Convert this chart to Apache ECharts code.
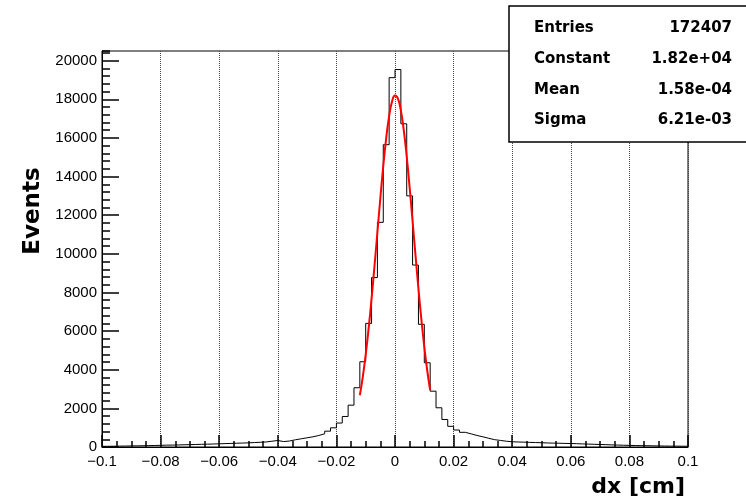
<!DOCTYPE html>
<html>
<head>
<meta charset="utf-8">
<script src="https://cdn.jsdelivr.net/npm/echarts@6/dist/echarts.min.js"></script>
<style>
  html, body { margin: 0; padding: 0; background: #fff; }
  #chart { width: 746px; height: 503px; }
</style>
</head>
<body>
<div id="chart"></div>
<script>
// histogram binning
const xMin = -0.1
const xMax = 0.1
const binWidth = 0.002

// bin contents (100 bins from -0.1 to 0.1)
const binCounts = [
  35, 40, 45, 50, 55, 60, 65, 70, 80, 85,
  95, 100, 105, 115, 120, 130, 140, 145, 155, 165,
  175, 185, 195, 205, 215, 230, 245, 260, 300, 337,
  280, 310, 373, 425, 477, 528, 596, 683, 820, 993,
  1240, 1580, 2166, 3067, 4413, 6400, 8770, 11630, 15650, 19120,
  19540, 16730, 13000, 9420, 6350, 4360, 2890, 2030, 1425, 1070,
  880, 760, 680, 596, 528, 450, 380, 340, 300, 270,
  260, 250, 240, 230, 220, 210, 200, 195, 185, 180,
  170, 160, 150, 140, 130, 120, 110, 100, 90, 85,
  75, 70, 65, 60, 55, 50, 45, 45, 40, 40
]

// red gaussian fit curve
const fitX = [
  -0.012, -0.011, -0.010, -0.009, -0.008, -0.007, -0.006, -0.005, -0.004, -0.003, -0.002, -0.001,
  0, 0.001, 0.002, 0.003, 0.004, 0.005, 0.006, 0.007, 0.008, 0.009, 0.010, 0.011, 0.012
]
const fitY = [
  2680, 3620, 4780, 6140, 7680, 9370, 11130, 12890, 14550, 15990, 17130, 17890,
  18190, 18030, 17420, 16390, 15030, 13430, 11690, 9920, 8200, 6610, 5180, 3960, 2950
]

const statNames = ['Entries', 'Constant', 'Mean', 'Sigma']
const statValues = ['172407', '1.82e+04', '1.58e-04', '6.21e-03']
const statRowsY = [28, 59, 90, 120]

const chart = echarts.init(document.getElementById('chart'))

// step outline: one point per left bin edge, plus closing right edge
const histData = binCounts.map((v, i) => [+(xMin + i * binWidth).toFixed(4), v])
histData.push([xMax, binCounts[binCounts.length - 1]])

const fitData = fitX.map((x, i) => [x, fitY[i]])

const labelFont = { fontFamily: 'Liberation Sans', fontSize: 15, color: '#000' }
const tickStyle = { color: '#000', width: 1.5 }

const statsGraphics = [{
  type: 'rect',
  shape: { x: 509, y: 6, width: 260, height: 136 },
  style: { fill: '#fff', stroke: '#000', lineWidth: 1.5 },
  z: 100
}]
statNames.forEach((name, i) => {
  statsGraphics.push({
    type: 'text', x: 534, y: statRowsY[i], z: 101,
    style: { text: name, font: 'bold 15px "DejaVu Sans"', fill: '#000', textAlign: 'left', textVerticalAlign: 'middle' }
  })
  statsGraphics.push({
    type: 'text', x: 732, y: statRowsY[i], z: 101,
    style: { text: statValues[i], font: 'bold 15px "DejaVu Sans"', fill: '#000', textAlign: 'right', textVerticalAlign: 'middle' }
  })
})

chart.setOption({
  animation: false,
  grid: {
    left: 102, top: 51, width: 586, height: 396,
    show: true, borderColor: '#000', borderWidth: 1
  },
  xAxis: {
    type: 'value',
    min: xMin, max: xMax, interval: 0.02,
    axisLine: { onZero: false, lineStyle: { color: '#000', width: 1 } },
    axisTick: { show: true, inside: true, length: 12, lineStyle: tickStyle },
    minorTick: { show: true, splitNumber: 4, length: 6, lineStyle: tickStyle },
    splitLine: { show: true, lineStyle: { color: '#444', type: 'dotted', width: 1 } },
    axisLabel: {
      ...labelFont, margin: 7, showMinLabel: true, showMaxLabel: true,
      formatter: v => String(+v.toFixed(4)).replace('-', '\u2212')
    }
  },
  yAxis: [{
    type: 'value',
    min: 0, max: 20500, interval: 2000,
    axisLine: { show: true, onZero: false, lineStyle: { color: '#000', width: 1 } },
    axisTick: { show: true, inside: true, length: 17, lineStyle: tickStyle },
    splitLine: { show: false },
    axisLabel: {
      ...labelFont, margin: 5, showMaxLabel: false,
      formatter: v => (v % 2000 === 0 ? String(v) : '')
    }
  }, {
    // minor ticks every 400, as in the original frame
    type: 'value', position: 'left',
    min: 0, max: 20500, interval: 400,
    axisLine: { show: false, onZero: false },
    axisTick: { show: true, inside: true, length: 8, lineStyle: tickStyle },
    splitLine: { show: false },
    axisLabel: { show: false }
  }],
  series: [{
    name: 'dx',
    type: 'line',
    step: 'end',
    data: histData,
    showSymbol: false,
    lineStyle: { color: '#000', width: 1 },
    z: 3
  }, {
    name: 'fit',
    type: 'line',
    smooth: true,
    data: fitData,
    showSymbol: false,
    lineStyle: { color: '#ff0000', width: 2 },
    z: 4
  }],
  graphic: [
    {
      type: 'text', x: 33, y: 211, rotation: Math.PI / 2,
      style: { text: 'Events', font: 'bold 23px "DejaVu Sans"', fill: '#000', textAlign: 'center', textVerticalAlign: 'middle' }
    },
    {
      type: 'text', x: 685, y: 487,
      style: { text: 'dx [cm]', font: 'bold 22px "DejaVu Sans"', fill: '#000', textAlign: 'right', textVerticalAlign: 'middle' }
    },
    ...statsGraphics
  ]
})
</script>
</body>
</html>
